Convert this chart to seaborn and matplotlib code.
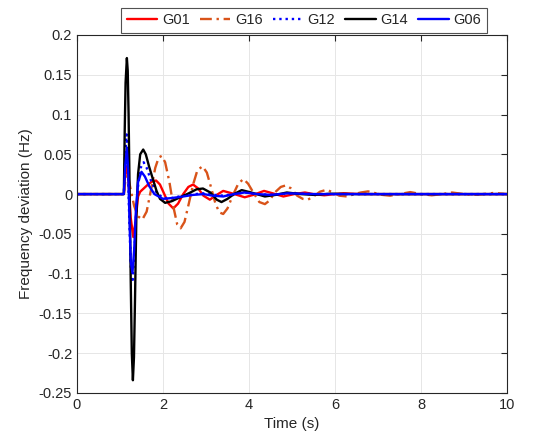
import numpy as np
import pandas as pd
import seaborn as sns
import matplotlib
matplotlib.use("Agg")
import matplotlib.pyplot as plt

# Dados (tempo em s, desvio de frequência em Hz)
t_g01 = [0, 1.09, 1.12, 1.16, 1.20, 1.25, 1.31, 1.36, 1.42, 1.47, 1.55, 1.65, 1.75, 1.84, 1.93,
         2.03, 2.13, 2.24, 2.35, 2.47, 2.59, 2.70, 2.82, 2.94, 3.09, 3.22, 3.40, 3.60, 3.90, 4.10,
         4.35, 4.55, 4.80, 5.05, 5.30, 5.50, 5.75, 6.00, 6.20, 6.60, 10]
f_g01 = [0, 0, 0.025, 0.035, 0.015, -0.030, -0.054, -0.035, -0.003, 0.003, 0.007, 0.012, 0.016, 0.017, 0.012,
         0.000, -0.012, -0.018, -0.012, 0.000, 0.009, 0.012, 0.007, -0.002, -0.007, -0.002, 0.004, 0.001, -0.004, -0.001,
         0.004, 0.001, -0.003, 0.000, 0.002, 0.000, -0.0015, 0.000, 0.001, 0.000, 0]

t_g16 = [0, 1.09, 1.13, 1.18, 1.25, 1.33, 1.42, 1.52, 1.62, 1.72, 1.82, 1.90, 1.97, 2.05, 2.15,
         2.25, 2.33, 2.41, 2.50, 2.60, 2.70, 2.80, 2.92, 3.02, 3.12, 3.22, 3.31, 3.40, 3.50, 3.62,
         3.75, 3.87, 3.98, 4.10, 4.24, 4.37, 4.48, 4.60, 4.74, 4.86, 4.98, 5.12, 5.25, 5.37, 5.50,
         5.65, 5.81, 5.95, 6.10, 6.28, 6.45, 6.60, 6.77, 6.95, 7.10, 7.28, 7.50, 7.75, 8.00, 8.25,
         8.50, 8.72, 9.00, 9.22, 9.45, 9.70, 10]
f_g16 = [0, 0, 0.020, 0.025, 0.005, -0.015, -0.028, -0.032, -0.022, 0.005, 0.033, 0.046, 0.048, 0.040, 0.015,
         -0.018, -0.038, -0.043, -0.035, -0.012, 0.012, 0.030, 0.035, 0.027, 0.008, -0.012, -0.023, -0.025, -0.018, -0.002,
         0.013, 0.019, 0.013, 0.002, -0.010, -0.0126, -0.008, 0.002, 0.009, 0.011, 0.007, -0.002, -0.006, -0.007, -0.003,
         0.003, 0.0055, 0.002, -0.002, -0.003, 0.000, 0.002, 0.0034, 0.001, -0.001, -0.002, 0.000, 0.0025, 0.000, -0.0015,
         0.000, 0.002, 0.000, -0.001, 0.000, 0.0015, 0]

t_g12 = [0, 1.09, 1.12, 1.155, 1.18, 1.21, 1.25, 1.29, 1.33, 1.37, 1.42, 1.48, 1.55, 1.62, 1.72,
         1.85, 2.00, 2.20, 2.47, 2.75, 2.95, 3.20, 3.40, 3.65, 3.90, 4.20, 4.50, 4.90, 5.50, 10]
f_g12 = [0, 0, 0.050, 0.075, 0.045, -0.020, -0.090, -0.111, -0.080, -0.030, 0.010, 0.033, 0.040, 0.033, 0.017,
         0.002, -0.005, -0.005, -0.002, 0.000, 0.001, -0.001, -0.002, 0.000, 0.002, 0.000, -0.001, 0.001, 0.000, 0]

t_g14 = [0, 1.09, 1.11, 1.13, 1.16, 1.18, 1.20, 1.225, 1.25, 1.275, 1.30, 1.325, 1.35, 1.38, 1.42,
         1.47, 1.54, 1.60, 1.68, 1.77, 1.85, 1.93, 2.05, 2.20, 2.40, 2.60, 2.78, 2.93, 3.10, 3.25,
         3.36, 3.50, 3.65, 3.83, 4.05, 4.37, 4.62, 4.88, 5.20, 5.50, 5.90, 6.40, 10]
f_g14 = [0, 0, 0.080, 0.140, 0.171, 0.155, 0.100, 0.000, -0.110, -0.200, -0.234, -0.205, -0.130, -0.030, 0.025,
         0.050, 0.056, 0.050, 0.034, 0.018, 0.004, -0.006, -0.011, -0.009, -0.004, 0.001, 0.006, 0.007, 0.002, -0.007,
         -0.010, -0.006, 0.000, 0.005, 0.002, -0.003, -0.001, 0.002, 0.000, -0.001, 0.0005, 0.000, 0]

t_g06 = [0, 1.09, 1.12, 1.16, 1.19, 1.22, 1.25, 1.29, 1.33, 1.37, 1.42, 1.50, 1.58, 1.68, 1.80,
         2.00, 2.20, 2.47, 2.70, 2.95, 3.15, 3.40, 3.65, 3.90, 4.20, 4.50, 4.90, 5.50, 10]
f_g06 = [0, 0, 0.035, 0.057, 0.030, -0.030, -0.085, -0.099, -0.070, -0.020, 0.015, 0.028, 0.022, 0.010, 0.000,
         -0.006, -0.005, -0.003, -0.001, 0.000, -0.002, -0.003, 0.000, 0.002, 0.000, -0.001, 0.001, 0.000, 0]

series = [
    ("G01", t_g01, f_g01, "#ff0000", "-"),
    ("G16", t_g16, f_g16, "#d95319", (0, (5, 2, 1, 2))),
    ("G12", t_g12, f_g12, "#0000ff", ":"),
    ("G14", t_g14, f_g14, "#000000", "-"),
    ("G06", t_g06, f_g06, "#0000ff", "-"),
]

sns.set_style("white")
plt.rcParams['font.family'] = ['Liberation Sans', 'DejaVu Sans']

fig = plt.figure(figsize=(5.38, 4.45), dpi=100)
ax = fig.add_axes([0.1431, 0.1169, 0.7993, 0.8045])

for nome, t, f, cor, estilo in series:
    df = pd.DataFrame({"t": t, "f": f})
    sns.lineplot(data=df, x="t", y="f", ax=ax, color=cor, linestyle=estilo,
                 linewidth=1.7, label=nome, sort=False)

ax.set_xlim(0, 10)
ax.set_ylim(-0.25, 0.2)
ax.set_xticks(np.arange(0, 11, 2))
ax.set_yticks(np.arange(-0.25, 0.201, 0.05))
ax.set_xticklabels([str(v) for v in range(0, 11, 2)])
ax.set_yticklabels(["-0.25", "-0.2", "-0.15", "-0.1", "-0.05", "0", "0.05", "0.1", "0.15", "0.2"])
ax.grid(True, color="#e6e6e6", linewidth=0.7)
ax.set_axisbelow(True)
ax.tick_params(direction="in", top=True, right=True, labelsize=10.5, length=4, color="#262626",
               labelcolor="#262626")
for s in ax.spines.values():
    s.set_color("#262626")
    s.set_linewidth(0.8)

ax.set_xlabel("Time (s)", fontsize=11, color="#262626")
ax.set_ylabel("Frequency deviation (Hz)", fontsize=11, color="#262626")

leg = ax.legend(loc="center", bbox_to_anchor=(0.565, 0.954), bbox_transform=fig.transFigure,
                ncol=5, frameon=True, fancybox=False, fontsize=10.5, handlelength=2.1,
                handletextpad=0.3, columnspacing=0.7, borderpad=0.4, borderaxespad=0)
leg.get_frame().set_edgecolor("#262626")
leg.get_frame().set_linewidth(0.8)

fig.savefig("out.png", dpi=100)
